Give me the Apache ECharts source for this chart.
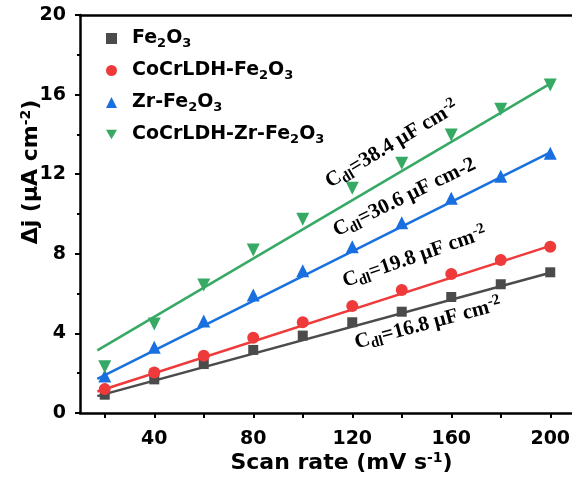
<!DOCTYPE html>
<html><head><meta charset="utf-8">
<script src="https://cdn.jsdelivr.net/npm/echarts@6/dist/echarts.min.js"></script>
<style>html,body{margin:0;padding:0;background:#fff}#c{width:572px;height:481px}</style>
</head><body><div id="c"></div>
<script>
// ---- data ----
const scanRates = [20, 40, 60, 80, 100, 120, 140, 160, 180, 200];
const fe2o3 = [0.92, 1.69, 2.46, 3.17, 3.89, 4.56, 5.09, 5.83, 6.47, 7.07];
const cocrFe2o3 = [1.20, 2.03, 2.88, 3.78, 4.56, 5.38, 6.18, 6.98, 7.69, 8.36];
const zrFe2o3 = [1.86, 3.30, 4.62, 5.93, 7.15, 8.36, 9.56, 10.79, 11.90, 13.05];
const cocrZrFe2o3 = [2.33, 4.47, 6.43, 8.19, 9.73, 11.29, 12.55, 13.97, 15.26, 16.48];
// fitted-line end points [scan rate, Δj]
const fitFe2o3 = [[17, 0.85], [200, 7.05]];
const fitCocrFe2o3 = [[17, 1.08], [200, 8.40]];
const fitZrFe2o3 = [[17, 1.72], [200, 13.10]];
const fitCocrZrFe2o3 = [[17, 3.15], [200, 16.55]];
const seriesNames = ['Fe2O3', 'CoCrLDH-Fe2O3', 'Zr-Fe2O3', 'CoCrLDH-Zr-Fe2O3'];
const xTickValues = [20, 40, 60, 80, 100, 120, 140, 160, 180, 200];
const xLabelValues = [40, 80, 120, 160, 200];
const annotations = [
  { text: 'C{sub|dl}=16.8 μF cm{sup|-2}', at: [122.5, 2.9], angle: 15 },
  { text: 'C{sub|dl}=19.8 μF cm{sup|-2}', at: [118, 6.0], angle: 19 },
  { text: 'C{sub|dl}=30.6 μF cm-2', at: [115, 8.55], angle: 26 },
  { text: 'C{sub|dl}=38.4 μF cm{sup|-2}', at: [112.5, 11.0], angle: 31 }
];

const colors = ['#4b4b4b', '#ee3a3a', '#1a6fe0', '#36a965'];
const legendLabels = {
  'Fe2O3': 'Fe{s|2}O{s|3}',
  'CoCrLDH-Fe2O3': 'CoCrLDH-Fe{s|2}O{s|3}',
  'Zr-Fe2O3': 'Zr-Fe{s|2}O{s|3}',
  'CoCrLDH-Zr-Fe2O3': 'CoCrLDH-Zr-Fe{s|2}O{s|3}'
};
const downTri = 'path://M0,0L10,0L5,8.7Z';
const legendIcons = ['rect', 'circle', 'triangle', downTri];

const pts = arr => scanRates.map((x, i) => [x, arr[i]]);
const dataSets = [fe2o3, cocrFe2o3, zrFe2o3, cocrZrFe2o3];
const fits = [fitFe2o3, fitCocrFe2o3, fitZrFe2o3, fitCocrZrFe2o3];
const symbols = ['rect', 'circle', 'triangle', 'triangle'];
const symRot = [0, 0, 0, 180];
const symSize = [10, 12, 13, 13];

const series = [];
fits.forEach((f, i) => {
  series.push({
    type: 'line', data: f, showSymbol: false, symbol: 'none', silent: true,
    lineStyle: { color: colors[i], width: 2.5 }, z: 2
  });
});
dataSets.forEach((d, i) => {
  series.push({
    name: seriesNames[i], type: 'scatter', data: pts(d),
    symbol: symbols[i], symbolRotate: symRot[i], symbolSize: symSize[i],
    itemStyle: { color: colors[i], opacity: 1 }, z: 3
  });
});

const font = 'DejaVu Sans, Liberation Sans, sans-serif';
const chart = echarts.init(document.getElementById('c'));
chart.setOption({
  animation: false,
  backgroundColor: '#fff',
  grid: { left: 80, top: 15, bottom: 68, right: -3, containLabel: false, outerBoundsMode: 'none' },
  legend: {
    orient: 'vertical', left: 101, top: 24, itemGap: 11,
    itemWidth: 11, itemHeight: 11,
    data: seriesNames.map((n, i) => ({ name: n, icon: legendIcons[i] })),
    formatter: n => legendLabels[n],
    textStyle: {
      fontFamily: font, fontWeight: 'bold', fontSize: 19, color: '#000', padding: [0, 0, 0, 10],
      rich: { s: { fontFamily: font, fontWeight: 'bold', fontSize: 13, color: '#000', padding: [10, 0, 0, 0] } }
    }
  },
  xAxis: [{
    type: 'value', min: 10, max: 210,
    name: 'Scan rate (mV s{sup|-1})', nameLocation: 'middle', nameGap: 38, nameMoveOverlap: false,
    nameTextStyle: {
      fontFamily: font, fontWeight: 'bold', fontSize: 22, color: '#000', padding: [0, 0, 0, 28],
      rich: { sup: { fontFamily: font, fontWeight: 'bold', fontSize: 14, color: '#000', padding: [0, 0, 11, 0] } }
    },
    axisLine: { show: true, onZero: false, lineStyle: { color: '#000', width: 2.5 } },
    axisTick: { show: true, inside: false, length: 5, customValues: xTickValues, lineStyle: { color: '#000', width: 2 } },
    axisLabel: { customValues: xLabelValues, margin: 17, fontFamily: font, fontWeight: 'bold', fontSize: 19, color: '#000' },
    splitLine: { show: false }
  }, {
    type: 'value', min: 10, max: 210, position: 'top',
    axisLine: { show: true, onZero: false, lineStyle: { color: '#000', width: 2.5 } },
    axisTick: { show: false }, axisLabel: { show: false }, splitLine: { show: false }
  }],
  yAxis: {
    type: 'value', min: 0, max: 20, interval: 4,
    name: 'Δj (μA cm{sup|-2})', nameLocation: 'middle', nameGap: 36, nameRotate: 90, nameMoveOverlap: false,
    nameTextStyle: {
      fontFamily: font, fontWeight: 'bold', fontSize: 22, color: '#000', padding: [0, 0, 0, 84],
      rich: { sup: { fontFamily: font, fontWeight: 'bold', fontSize: 14, color: '#000', padding: [0, 0, 11, 0] } }
    },
    axisLine: { show: true, onZero: false, lineStyle: { color: '#000', width: 2.5 } },
    axisTick: { show: true, inside: false, length: 5, lineStyle: { color: '#000', width: 2 } },
    minorTick: { show: true, splitNumber: 2, length: 3, lineStyle: { color: '#000', width: 2 } },
    axisLabel: { margin: 14, fontFamily: font, fontWeight: 'bold', fontSize: 19, color: '#000' },
    splitLine: { show: false }
  },
  series: series
});

const serif = 'Liberation Serif, Times New Roman, serif';
chart.setOption({
  graphic: annotations.map(a => {
    const p = chart.convertToPixel({ gridIndex: 0 }, a.at);
    return {
      type: 'text', x: p[0], y: p[1], rotation: a.angle * Math.PI / 180, z: 10,
      style: {
        text: a.text, fill: '#000', align: 'left', verticalAlign: 'bottom',
        font: 'bold 21px ' + serif,
        rich: {
          sub: { font: 'bold 15px ' + serif, fill: '#000', padding: [10, 0, 0, 0] },
          sup: { font: 'bold 15px ' + serif, fill: '#000', padding: [0, 0, 10, 0] }
        }
      }
    };
  })
});
</script></body></html>
